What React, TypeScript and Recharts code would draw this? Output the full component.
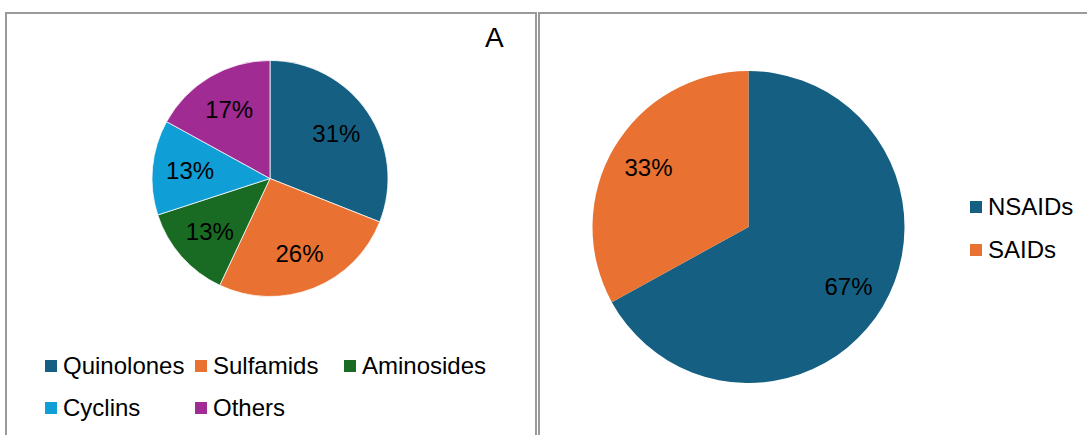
import { PieChart, Pie, Cell, Legend } from 'recharts';

const antibioticNames = ['Quinolones', 'Sulfamids', 'Aminosides', 'Cyclins', 'Others'];
const antibioticValues = [31, 26, 13, 13, 17];
const antibioticColors = ['#156082', '#E97132', '#196B24', '#0F9ED5', '#A02B93'];

const inflamNames = ['NSAIDs', 'SAIDs'];
const inflamValues = [67, 33];
const inflamColors = ['#156082', '#E97132'];

const FONT = "'Liberation Sans', Arial, sans-serif";
const RADIAN = Math.PI / 180;
const NO_MARGIN = { top: 0, right: 0, bottom: 0, left: 0 };

const antibioticData = antibioticNames.map((name, i) => ({ name, value: antibioticValues[i] }));
const inflamData = inflamNames.map((name, i) => ({ name, value: inflamValues[i] }));

const makeLabel = (factor: number) => (props: any) => {
  const { cx, cy, midAngle, outerRadius, value } = props;
  const r = outerRadius * factor;
  const x = cx + r * Math.cos(-midAngle * RADIAN);
  const y = cy + r * Math.sin(-midAngle * RADIAN);
  return (
    <text
      x={x}
      y={y}
      fill="#000"
      textAnchor="middle"
      dominantBaseline="central"
      fontSize={24}
      fontFamily={FONT}
    >
      {`${value}%`}
    </text>
  );
};

const Swatch = ({ color }: { color: string }) => (
  <span
    style={{
      display: 'inline-block',
      width: 12,
      height: 12,
      background: color,
      marginRight: 6,
    }}
  />
);

const AntibioticLegend = () => {
  const cols = [45, 195, 344];
  return (
    <div style={{ position: 'relative', width: 537, height: 90, fontFamily: FONT, fontSize: 24 }}>
      {antibioticNames.map((name, i) => (
        <div
          key={name}
          style={{
            position: 'absolute',
            left: cols[i % 3],
            top: i < 3 ? 6 : 48,
            height: 30,
            display: 'flex',
            alignItems: 'center',
            color: '#000',
            whiteSpace: 'nowrap',
          }}
        >
          <Swatch color={antibioticColors[i]} />
          {name}
        </div>
      ))}
    </div>
  );
};

const InflamLegend = () => (
  <div style={{ fontFamily: FONT, fontSize: 24 }}>
    {inflamNames.map((name, i) => (
      <div
        key={name}
        style={{ height: 43, display: 'flex', alignItems: 'center', color: '#000', whiteSpace: 'nowrap' }}
      >
        <Swatch color={inflamColors[i]} />
        {name}
      </div>
    ))}
  </div>
);

export default function App() {
  return (
    <div
      style={{
        position: 'absolute',
        left: 0,
        top: 0,
        width: 1087,
        height: 435,
        overflow: 'hidden',
        background: '#fff',
        fontFamily: FONT,
      }}
    >
      {/* panel frames */}
      <div
        style={{
          position: 'absolute',
          left: 5,
          top: 12,
          width: 532,
          height: 440,
          boxSizing: 'border-box',
          border: '2px solid #9a9a9a',
        }}
      />
      <div
        style={{
          position: 'absolute',
          left: 538,
          top: 12,
          width: 560,
          height: 440,
          boxSizing: 'border-box',
          border: '2px solid #9a9a9a',
        }}
      />

      <div style={{ position: 'absolute', left: 0, top: 0 }}>
        <PieChart width={537} height={435} margin={NO_MARGIN}>
          <Pie
            data={antibioticData}
            dataKey="value"
            nameKey="name"
            cx={270}
            cy={178.5}
            outerRadius={118}
            startAngle={90}
            endAngle={-270}
            stroke="#fff"
            strokeWidth={0.75}
            label={makeLabel(0.68)}
            labelLine={false}
            isAnimationActive={false}
          >
            {antibioticData.map((d, i) => (
              <Cell key={d.name} fill={antibioticColors[i]} />
            ))}
          </Pie>
          <Legend
            content={() => <AntibioticLegend />}
            wrapperStyle={{ position: 'absolute', left: 0, top: 345, width: 537 }}
          />
        </PieChart>
      </div>

      <div
        style={{
          position: 'absolute',
          left: 485,
          top: 22,
          fontSize: 28,
          color: '#000',
          lineHeight: '32px',
        }}
      >
        A
      </div>

      <div style={{ position: 'absolute', left: 540, top: 0 }}>
        <PieChart width={547} height={435} margin={NO_MARGIN}>
          <Pie
            data={inflamData}
            dataKey="value"
            nameKey="name"
            cx={208.5}
            cy={227}
            outerRadius={156}
            startAngle={90}
            endAngle={-270}
            stroke="none"
            label={makeLabel(0.745)}
            labelLine={false}
            isAnimationActive={false}
          >
            {inflamData.map((d, i) => (
              <Cell key={d.name} fill={inflamColors[i]} />
            ))}
          </Pie>
          <Legend
            content={() => <InflamLegend />}
            wrapperStyle={{ position: 'absolute', left: 430, top: 185, width: 120 }}
          />
        </PieChart>
      </div>
    </div>
  );
}
